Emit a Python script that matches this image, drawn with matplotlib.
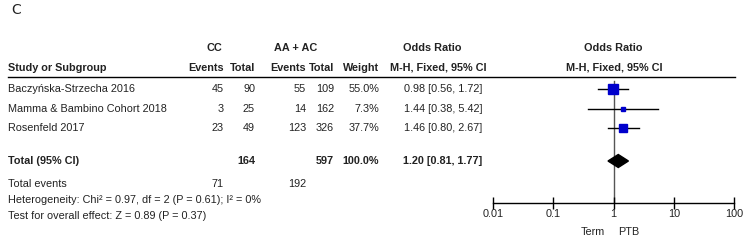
import numpy as np
import matplotlib
matplotlib.use("Agg")
import matplotlib.pyplot as plt
from matplotlib import font_manager

# data
studies = ["Baczyńska-Strzecha 2016", "Mamma & Bambino Cohort 2018", "Rosenfeld 2017"]
cc_events = [45, 3, 23]
cc_total = [90, 25, 49]
ac_events = [55, 14, 123]
ac_total = [109, 162, 326]
weights = [55.0, 7.3, 37.7]
or_est = [0.98, 1.44, 1.46]
or_lo = [0.56, 0.38, 0.80]
or_hi = [1.72, 5.42, 2.67]
pooled = [1.20, 0.81, 1.77]
sum_cc_total, sum_ac_total = 164, 597
sum_cc_events, sum_ac_events = 71, 192
het_text = "Heterogeneity: Chi² = 0.97, df = 2 (P = 0.61); I² = 0%"
test_text = "Test for overall effect: Z = 0.89 (P = 0.37)"
xticks = [0.01, 0.1, 1, 10, 100]
xtick_labels = ["0.01", "0.1", "1", "10", "100"]

names = {f.name for f in font_manager.fontManager.ttflist}
fam = "Liberation Sans Narrow" if "Liberation Sans Narrow" in names else "Liberation Sans"
plt.rcParams['font.family'] = [fam, 'DejaVu Sans']
fs = 7.8
col = '#222222'

W, H = 747, 241
fig = plt.figure(figsize=(W / 100, H / 100), dpi=100)
tax = fig.add_axes([0, 0, 1, 1])
tax.set_xlim(0, W)
tax.set_ylim(H, 0)
tax.axis('off')

def t(x, y, s, ha='left', bold=False, size=fs):
    tax.text(x, y, s, ha=ha, va='center', fontsize=size, color=col,
             fontweight='bold' if bold else 'normal')

# column layout (pixels)
x_name = 8
x_cce, x_cct, x_ace, x_act, x_w = 224, 255, 306, 334, 379
x_or = 482
row_y = [89, 109, 128]
y_tot, y_tev, y_het, y_test = 161, 184, 200, 216
y_h1, y_h2, y_line = 48, 68, 77

tax.text(11, 10, "C", fontsize=10, color=col, va='center', family='DejaVu Sans')

t(214, y_h1, "CC", ha='center', bold=True)
t(296, y_h1, "AA + AC", ha='center', bold=True)
t(432, y_h1, "Odds Ratio", ha='center', bold=True)
t(613, y_h1, "Odds Ratio", ha='center', bold=True)
t(x_name, y_h2, "Study or Subgroup", bold=True)
t(x_cce, y_h2, "Events", ha='right', bold=True)
t(x_cct, y_h2, "Total", ha='right', bold=True)
t(x_ace, y_h2, "Events", ha='right', bold=True)
t(x_act, y_h2, "Total", ha='right', bold=True)
t(x_w, y_h2, "Weight", ha='right', bold=True)
t(438, y_h2, "M-H, Fixed, 95% CI", ha='center', bold=True)
t(614, y_h2, "M-H, Fixed, 95% CI", ha='center', bold=True)
tax.plot([8, 735], [y_line, y_line], color='black', lw=1)

for i, y in enumerate(row_y):
    t(x_name, y, studies[i])
    t(x_cce, y, str(cc_events[i]), ha='right')
    t(x_cct, y, str(cc_total[i]), ha='right')
    t(x_ace, y, str(ac_events[i]), ha='right')
    t(x_act, y, str(ac_total[i]), ha='right')
    t(x_w, y, f"{weights[i]:.1f}%", ha='right')
    t(x_or, y, f"{or_est[i]:.2f} [{or_lo[i]:.2f}, {or_hi[i]:.2f}]", ha='right')

t(x_name, y_tot, "Total (95% CI)", bold=True)
t(x_cct, y_tot, str(sum_cc_total), ha='right', bold=True)
t(x_act, y_tot, str(sum_ac_total), ha='right', bold=True)
t(x_w, y_tot, f"{sum(weights):.1f}%", ha='right', bold=True)
t(x_or, y_tot, f"{pooled[0]:.2f} [{pooled[1]:.2f}, {pooled[2]:.2f}]", ha='right', bold=True)
t(x_name, y_tev, "Total events")
t(x_cce, y_tev, str(sum_cc_events), ha='right')
t(x_ace, y_tev, str(sum_ac_events), ha='right')
t(x_name, y_het, het_text)
t(x_name, y_test, test_text)

# forest plot axes
x0, x1, y_axis = 493, 734, 203
ax = fig.add_axes([x0 / W, (H - y_axis) / H, (x1 - x0) / W, (y_axis - y_line) / H])
ax.patch.set_visible(False)
ax.set_xscale('log')
ax.set_xlim(0.01, 100)
ax.set_ylim(y_axis, y_line)
for s in ['top', 'left', 'right']:
    ax.spines[s].set_visible(False)
ax.spines['bottom'].set_linewidth(1)
ax.set_yticks([])
ax.set_xticks(xticks)
ax.set_xticklabels(xtick_labels)
ax.minorticks_off()
ax.tick_params(axis='x', direction='inout', length=8, width=1, labelsize=fs,
               pad=0, colors='black', labelcolor=col)

ax.plot([1, 1], [81, y_axis], color='#555555', lw=1, zorder=1)
for i, y in enumerate(row_y):
    ax.plot([or_lo[i], or_hi[i]], [y, y], color='black', lw=1, zorder=2)
    ax.plot(or_est[i], y, marker='s', color='#0000cc', mec='#0000cc',
            ms=7.4 * np.sqrt(weights[i] / 55.0), zorder=3)
dx = [pooled[1], pooled[0], pooled[2], pooled[0]]
dy = [y_tot, y_tot - 6.5, y_tot, y_tot + 6.5]
ax.fill(dx, dy, color='black', zorder=3)

tax.text(605, 232, "Term", ha='right', va='center', fontsize=fs, color=col)
tax.text(618, 232, "PTB", ha='left', va='center', fontsize=fs, color=col)

fig.savefig("out.png", dpi=100)
